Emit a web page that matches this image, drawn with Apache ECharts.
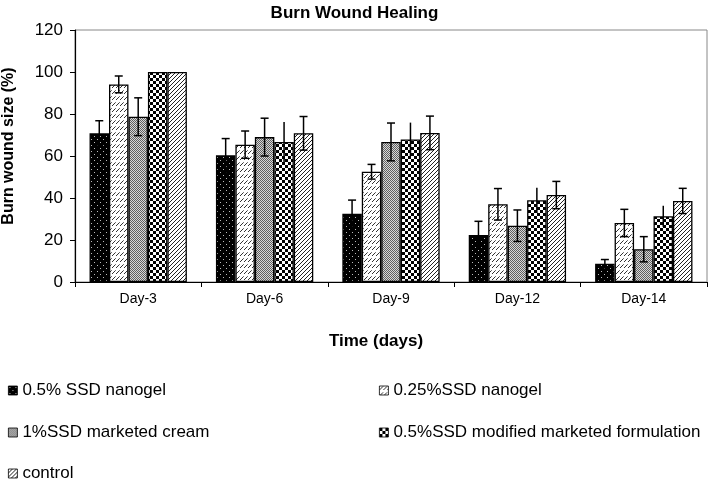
<!DOCTYPE html>
<html><head><meta charset="utf-8">
<script src="https://cdn.jsdelivr.net/npm/echarts@6/dist/echarts.min.js"></script>
<style>html,body{margin:0;padding:0;background:#fff}#c{width:709px;height:484px}</style>
</head><body><div id="c"></div>
<script>
const categories = ['Day-3','Day-6','Day-9','Day-12','Day-14'];
const seriesNames = ['0.5% SSD nanogel','0.25%SSD nanogel','1%SSD marketed cream','0.5%SSD modified marketed formulation','control'];
const nanogel05 = [70.8, 60.3, 32.5, 22.4, 8.7];
const nanogel025 = [94.1, 65.4, 52.5, 37.0, 28.1];
const cream1 = [78.7, 69.0, 66.7, 26.8, 15.6];
const modified05 = [100, 66.7, 67.9, 38.9, 31.3];
const control = [100, 70.8, 71.0, 41.4, 38.6];
const err05 = [6, 8, 6.5, 6.5, 2];
const err025 = [4, 6.5, 3.5, 7.5, 6.5];
const errCream = [9, 9, 9, 7.5, 6];
const errModified = [0, 9.5, 8, 6, 5];
const errControl = [0, 8, 8, 6.5, 6];
const yTicks = [0, 20, 40, 60, 80, 100, 120];

const values = [nanogel05, nanogel025, cream1, modified05, control];
const errors = [err05, err025, errCream, errModified, errControl];
const caps = [true, true, true, false, true];

function tile(w, h, draw) {
  const c = document.createElement('canvas'); c.width = w; c.height = h;
  const g = c.getContext('2d'); draw(g); return c;
}
function px(g, x, y, col) { g.fillStyle = col; g.fillRect(x, y, 1, 1); }
const patterns = [
  tile(6, 6, g => { g.fillStyle = '#000'; g.fillRect(0,0,6,6); px(g,1,1,'#bbb'); px(g,4,4,'#bbb'); }),
  tile(4, 6, g => { g.fillStyle = '#fff'; g.fillRect(0,0,4,6); px(g,0,3,'#333'); px(g,1,2,'#333'); px(g,2,1,'#333'); px(g,3,0,'#777'); }),
  tile(2, 2, g => { g.fillStyle = '#d8d8d8'; g.fillRect(0,0,2,2); px(g,0,0,'#606060'); px(g,1,1,'#606060'); }),
  tile(6, 6, g => { g.fillStyle = '#fff'; g.fillRect(0,0,6,6); g.fillStyle = '#000'; g.fillRect(0,0,3,3); g.fillRect(3,3,3,3); }),
  tile(4, 4, g => { g.fillStyle = '#fff'; g.fillRect(0,0,4,4); px(g,0,3,'#222'); px(g,1,2,'#222'); px(g,2,1,'#222'); px(g,3,0,'#222'); })
];

const FONT = 'Liberation Sans, Arial, sans-serif';
const GAP = 0.23;
const series = [];
values.forEach((v, i) => {
  series.push({
    name: seriesNames[i], type: 'bar', data: v,
    barCategoryGap: (GAP*100) + '%', barGap: '0%',
    itemStyle: { color: { image: patterns[i], repeat: 'repeat' }, borderColor: '#000', borderWidth: 1.3 },
    emphasis: { disabled: true }, z: 2
  });
});
const errData = [];
values.forEach((v, i) => v.forEach((val, j) => { if (errors[i][j] > 0) errData.push([j, val, errors[i][j], i]); }));
series.push({
  type: 'custom', name: 'err', data: errData, z: 10, silent: true,
  renderItem: function (params, api) {
    const cat = api.value(0), val = api.value(1), err = api.value(2), s = api.value(3);
    const c = api.coord([cat, val]);
    const catW = api.size([1, 0])[0];
    const groupW = catW * (1 - GAP);
    const bw = groupW / 5;
    const x = c[0] - groupW / 2 + bw * (s + 0.5);
    const top = api.coord([cat, val + err])[1];
    const bot = api.coord([cat, val - err])[1];
    const st = { stroke: '#000', lineWidth: 1.5 };
    const ch = [{ type: 'line', shape: { x1: x, y1: top, x2: x, y2: bot }, style: st }];
    if (caps[s]) {
      ch.push({ type: 'line', shape: { x1: x - 4, y1: top, x2: x + 4, y2: top }, style: st });
      ch.push({ type: 'line', shape: { x1: x - 4, y1: bot, x2: x + 4, y2: bot }, style: st });
    }
    return { type: 'group', children: ch };
  }
});

const legendPos = [[8, 382], [379, 382], [8, 424], [379, 424], [8, 465]];
const legends = seriesNames.map((n, i) => ({
  data: [{ name: n, icon: 'rect' }], left: legendPos[i][0], top: legendPos[i][1], orient: 'horizontal',
  itemWidth: 9, itemHeight: 9, itemGap: 0, padding: 0,
  itemStyle: { borderColor: '#000', borderWidth: 0.8 },
  textStyle: { fontFamily: FONT, fontSize: 17, color: '#000' },
  selectedMode: false
}));

const chart = echarts.init(document.getElementById('c'), null, { renderer: 'canvas' });
chart.setOption({
  animation: false,
  backgroundColor: '#fff',
  title: { text: 'Burn Wound Healing', left: 'center', top: 0, textStyle: { fontFamily: FONT, fontSize: 17, fontWeight: 'bold', color: '#000' } },
  legend: legends,
  grid: { left: 75, right: 2, top: 30, bottom: 202, show: true, borderColor: '#888', borderWidth: 1, containLabel: false, outerBoundsMode: 'none' },
  xAxis: {
    type: 'category', data: categories,
    name: 'Time (days)', nameLocation: 'middle', nameGap: 51,
    nameTextStyle: { fontFamily: FONT, fontSize: 17, fontWeight: 'bold', color: '#000', padding: [0, 30, 0, 0] },
    axisLine: { lineStyle: { color: '#000', width: 1.2 } },
    axisTick: { show: true, alignWithLabel: false, length: 5, lineStyle: { color: '#000' } },
    axisLabel: { fontFamily: FONT, fontSize: 14, color: '#000', margin: 10 }
  },
  yAxis: {
    type: 'value', min: 0, max: 120, interval: 20,
    name: 'Burn wound size (%)', nameLocation: 'middle', nameGap: 58, nameRotate: 90,
    nameTextStyle: { fontFamily: FONT, fontSize: 16, fontWeight: 'bold', color: '#000', padding: [0, 0, 0, 20] },
    axisLine: { show: true, lineStyle: { color: '#000', width: 1.2 } },
    axisTick: { show: true, length: 5, lineStyle: { color: '#000' } },
    axisLabel: { fontFamily: FONT, fontSize: 17, color: '#000', margin: 12, formatter: v => yTicks.includes(v) ? String(v) : '' },
    splitLine: { show: false }
  },
  series: series
});
</script></body></html>
